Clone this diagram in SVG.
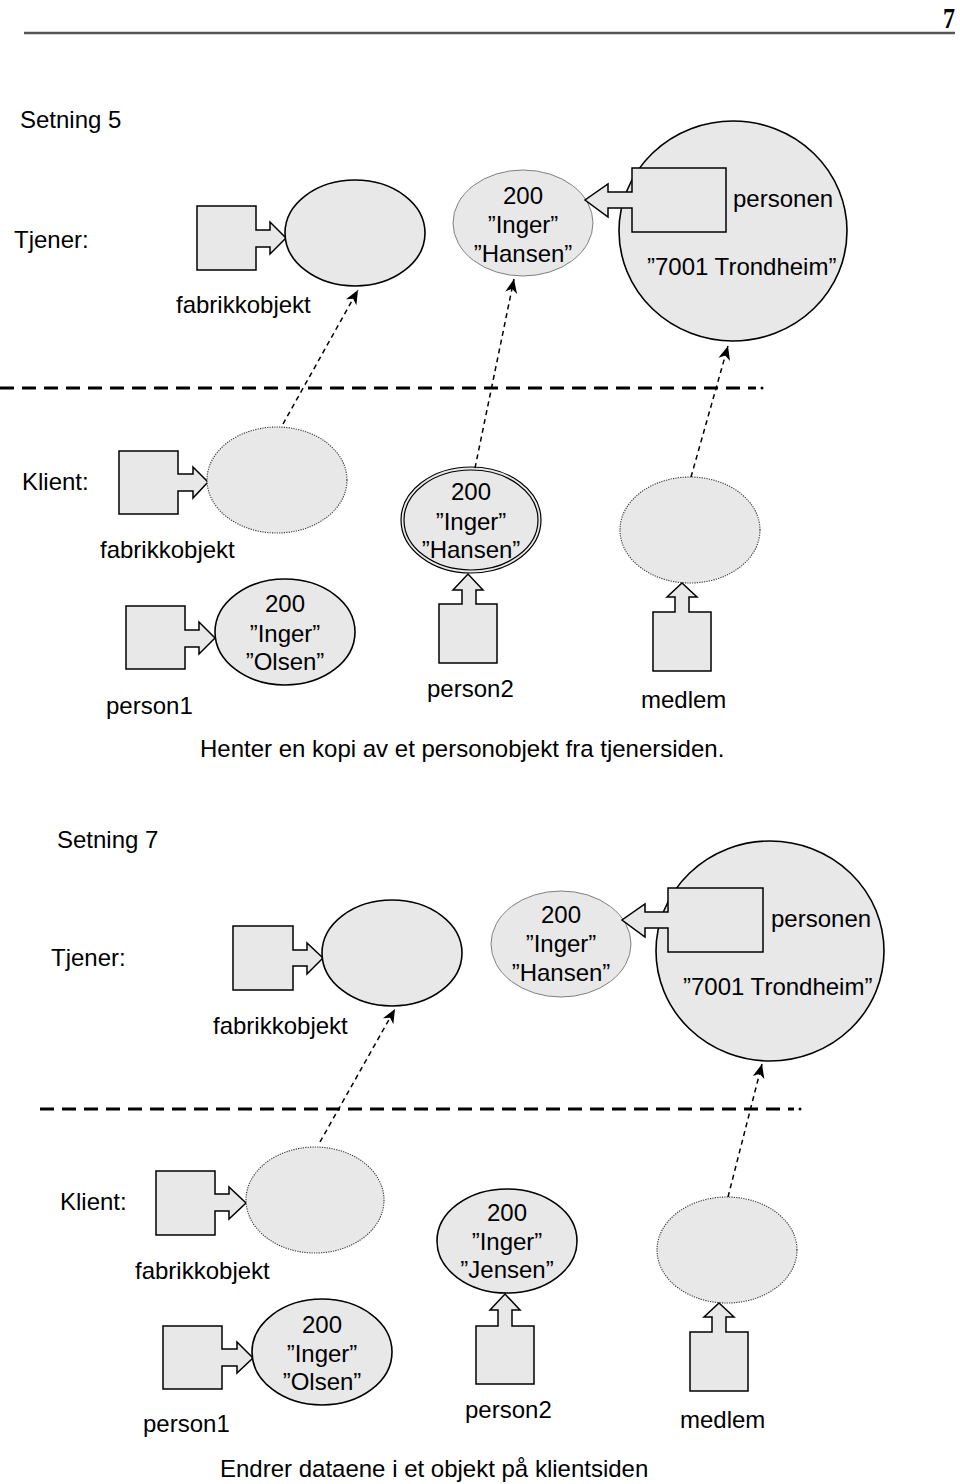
<svg xmlns="http://www.w3.org/2000/svg" width="960" height="1484" viewBox="0 0 960 1484">
<style>
text{font-family:"Liberation Sans",Arial,sans-serif;font-size:24px;fill:#000}
.c{text-anchor:middle}
.ptr{fill:#e8e8e8;stroke:#000;stroke-width:1.5;stroke-linejoin:miter}
.obj{fill:#e8e8e8;stroke:#000;stroke-width:1.6}
.thin{fill:#e8e8e8;stroke:#808080;stroke-width:1}
.dot{fill:#e8e8e8;stroke:#333;stroke-width:1.1;stroke-dasharray:1.2 1.2}
.big{fill:#e8e8e8;stroke:#000;stroke-width:1.6}
.dbl{fill:none;stroke:#000;stroke-width:1.2}
.ref{fill:none;stroke:#000;stroke-width:1.5;stroke-dasharray:5 4}
.sep{fill:none;stroke:#000;stroke-width:3;stroke-dasharray:14 8}
</style>
<defs>
<marker id="ah" markerUnits="userSpaceOnUse" markerWidth="16" markerHeight="14" refX="14" refY="6" orient="auto">
<path d="M0,0 L14,6 L0,12 L4,6 z" fill="#000"/>
</marker>
</defs>

<g id="header">
<text x="955" y="28" transform="translate(955 0) scale(0.8 1) translate(-955 0)" style="font-family:'Liberation Serif',serif;font-size:30px;font-weight:bold;text-anchor:end">7</text>
<line x1="24" y1="33" x2="955" y2="33" stroke="#555" stroke-width="2.5"/>
</g>

<!-- Setning 5 -->
<g id="titles1">
<text x="20" y="128">Setning 5</text>
<text x="14" y="248">Tjener:</text>
<text x="22" y="490">Klient:</text>
<text x="200" y="757">Henter en kopi av et personobjekt fra tjenersiden.</text>
</g>

<g id="s1-server-fabrikkobjekt">
<polygon class="ptr" points="197,206 256,206 256,230 270,230 270,222 286,238 270,254 270,247 256,247 256,270 197,270"/>
<ellipse class="obj" cx="355" cy="233" rx="70" ry="53"/>
<text x="176" y="313">fabrikkobjekt</text>
</g>

<g id="s1-server-hansen">
<ellipse class="thin" cx="523" cy="223" rx="70" ry="53"/>
<text class="c" x="523" y="204">200</text>
<text class="c" x="523" y="233">”Inger”</text>
<text class="c" x="523" y="262">”Hansen”</text>
</g>

<g id="s1-server-personen">
<ellipse class="big" cx="733" cy="231" rx="114" ry="110"/>
<polygon class="ptr" points="726,168 726,232 632,232 632,208 608,208 608,217 585,200 608,184 608,192 632,192 632,168"/>
<text x="733" y="207">personen</text>
<text x="647" y="275">”7001 Trondheim”</text>
</g>

<g id="s1-separator">
<line class="sep" x1="0" y1="388" x2="756" y2="388"/>
<circle cx="762" cy="388" r="1.5" fill="#000"/>
</g>

<g id="s1-client-fabrikkobjekt">
<polygon class="ptr" points="119,451 178,451 178,474 193,474 193,467 208,482 193,498 193,491 178,491 178,514 119,514"/>
<ellipse class="dot" cx="277" cy="480" rx="70" ry="53"/>
<text x="100" y="558">fabrikkobjekt</text>
</g>

<g id="s1-client-person1">
<polygon class="ptr" points="126,606 185,606 185,630 199,630 199,622 215,638 199,654 199,647 185,647 185,669 126,669"/>
<ellipse class="obj" cx="285" cy="632" rx="70" ry="53"/>
<text class="c" x="285" y="612">200</text>
<text class="c" x="285" y="642">”Inger”</text>
<text class="c" x="285" y="670">”Olsen”</text>
<text x="106" y="714">person1</text>
</g>

<g id="s1-client-person2">
<ellipse cx="471" cy="520" rx="70" ry="53" fill="#e8e8e8" stroke="none"/>
<ellipse class="dbl" cx="471" cy="520" rx="70" ry="53"/>
<ellipse class="dbl" cx="471" cy="520" rx="67" ry="50"/>
<text class="c" x="471" y="500">200</text>
<text class="c" x="471" y="530">”Inger”</text>
<text class="c" x="471" y="558">”Hansen”</text>
<polygon class="ptr" points="439,604 462,604 462,590 453,590 468,574 483,590 476,590 476,604 497,604 497,663 439,663"/>
<text x="427" y="697">person2</text>
</g>

<g id="s1-client-medlem">
<ellipse class="dot" cx="690" cy="530" rx="70" ry="53"/>
<polygon class="ptr" points="653,612 675,612 675,597 667,597 682,583 697,597 689,597 689,612 711,612 711,671 653,671"/>
<text x="641" y="708">medlem</text>
</g>

<g id="s1-connectors">
<line class="ref" x1="283" y1="424" x2="358" y2="290" marker-end="url(#ah)"/>
<line class="ref" x1="475" y1="468" x2="514" y2="279" marker-end="url(#ah)"/>
<line class="ref" x1="691" y1="477" x2="728" y2="346" marker-end="url(#ah)"/>
</g>

<!-- Setning 7 -->
<g id="titles2">
<text x="57" y="848">Setning 7</text>
<text x="51" y="966">Tjener:</text>
<text x="60" y="1210">Klient:</text>
<text x="220" y="1477">Endrer dataene i et objekt på klientsiden</text>
</g>

<g id="s2-server-fabrikkobjekt">
<polygon class="ptr" points="233,926 293,926 293,950 307,950 307,943 323,958 307,974 307,966 293,966 293,990 233,990"/>
<ellipse class="obj" cx="392" cy="953" rx="70" ry="53"/>
<text x="213" y="1034">fabrikkobjekt</text>
</g>

<g id="s2-server-hansen">
<ellipse class="thin" cx="561" cy="944" rx="70" ry="53"/>
<text class="c" x="561" y="923">200</text>
<text class="c" x="561" y="952">”Inger”</text>
<text class="c" x="561" y="981">”Hansen”</text>
</g>

<g id="s2-server-personen">
<ellipse class="big" cx="770" cy="951" rx="114" ry="110"/>
<polygon class="ptr" points="763,888 763,952 668,952 668,928 645,928 645,937 622,920 645,904 645,912 668,912 668,888"/>
<text x="771" y="927">personen</text>
<text x="683" y="995">”7001 Trondheim”</text>
</g>

<g id="s2-separator">
<line class="sep" x1="40" y1="1109" x2="794" y2="1109"/>
<circle cx="800" cy="1109" r="1.5" fill="#000"/>
</g>

<g id="s2-client-fabrikkobjekt">
<polygon class="ptr" points="156,1171 215,1171 215,1194 229,1194 229,1187 246,1203 229,1219 229,1211 215,1211 215,1235 156,1235"/>
<ellipse class="dot" cx="315" cy="1200" rx="69" ry="53"/>
<text x="135" y="1279">fabrikkobjekt</text>
</g>

<g id="s2-client-person1">
<polygon class="ptr" points="163,1326 222,1326 222,1349 237,1349 237,1342 253,1358 237,1373 237,1366 222,1366 222,1389 163,1389"/>
<ellipse class="obj" cx="322" cy="1352" rx="70" ry="53"/>
<text class="c" x="322" y="1333">200</text>
<text class="c" x="322" y="1362">”Inger”</text>
<text class="c" x="322" y="1390">”Olsen”</text>
<text x="143" y="1432">person1</text>
</g>

<g id="s2-client-person2">
<ellipse class="obj" cx="507" cy="1241" rx="70" ry="52"/>
<text class="c" x="507" y="1221">200</text>
<text class="c" x="507" y="1250">”Inger”</text>
<text class="c" x="507" y="1278">”Jensen”</text>
<polygon class="ptr" points="476,1326 498,1326 498,1310 490,1310 505,1294 520,1310 512,1310 512,1326 534,1326 534,1384 476,1384"/>
<text x="465" y="1418">person2</text>
</g>

<g id="s2-client-medlem">
<ellipse class="dot" cx="727" cy="1250" rx="70" ry="53"/>
<polygon class="ptr" points="690,1332 712,1332 712,1317 704,1317 719,1303 734,1317 726,1317 726,1332 748,1332 748,1391 690,1391"/>
<text x="680" y="1428">medlem</text>
</g>

<g id="s2-connectors">
<line class="ref" x1="320" y1="1142" x2="395" y2="1009" marker-end="url(#ah)"/>
<line class="ref" x1="728" y1="1197" x2="762" y2="1064" marker-end="url(#ah)"/>
</g>
</svg>
